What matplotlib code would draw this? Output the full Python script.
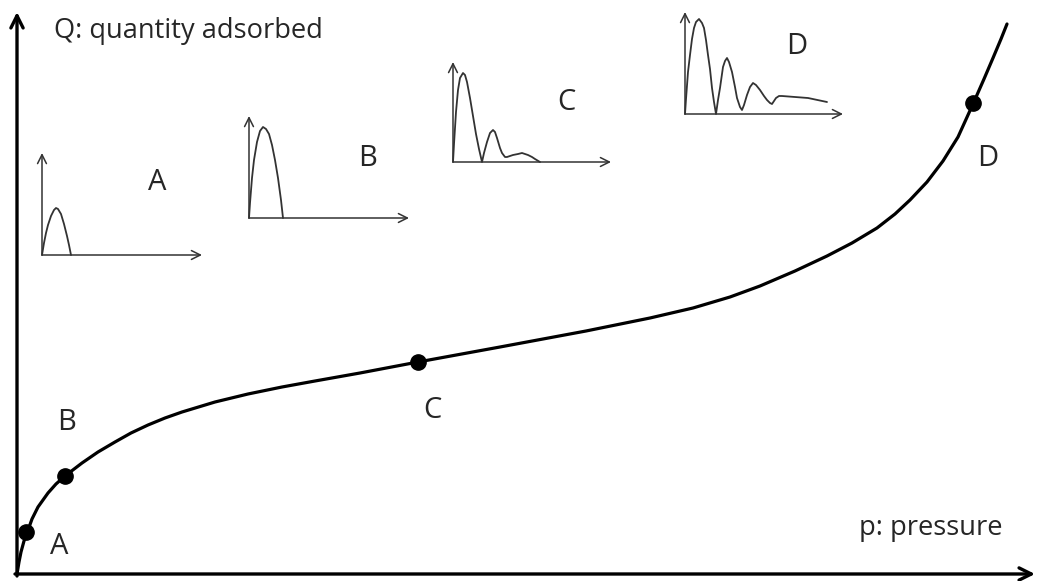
import numpy as np
import matplotlib
matplotlib.use("Agg")
import matplotlib.pyplot as plt

plt.rcParams['font.family'] = ['Open Sans', 'DejaVu Sans']

W, H = 1037, 581

# ---- main isotherm (p: pressure, Q: quantity adsorbed), arbitrary units ----
p_curve = [0, 1, 2, 4, 7, 10, 15, 21, 31, 39, 48, 65, 81, 98, 114, 131, 148, 165, 198, 231,
           265, 298, 343, 401, 483, 569, 633, 676, 713, 743, 778, 810, 835, 860, 878, 893,
           910, 926, 941, 956, 967, 976, 984, 990]
q_curve = [0, 6, 12, 22, 33, 41, 55, 67, 81, 90, 98, 111, 122, 132, 141, 149, 156, 162, 172, 180,
           187, 193, 201, 212, 227, 243, 256, 266, 277, 288, 303, 318, 331, 346, 360, 374,
           392, 413, 437, 470, 495, 516, 535, 550]
point_labels = ['A', 'B', 'C', 'D']
p_points = [9, 48, 401, 956]
q_points = [42, 98, 212, 471]

# ---- inset distributions (local units) ----
insetA_r = [0, 1, 2, 4, 6, 9, 12, 14, 16, 19, 22, 25, 27, 29]
insetA_g = [0, 6, 12, 22, 30, 39, 45, 47, 46, 41, 31, 19, 10, 0]
insetB_r = [0, 1, 3, 5, 8, 11, 14, 17, 20, 23, 26, 29, 32, 34]
insetB_g = [0, 15, 40, 58, 76, 87, 91, 89, 84, 73, 58, 40, 18, 0]
insetC_r = [0, 1, 3, 5, 7, 10, 12, 14, 17, 20, 23, 26, 29, 31, 34, 37, 40, 42, 44, 47, 49,
            52, 54, 57, 60, 65, 69, 72, 75, 79, 82, 87]
insetC_g = [0, 18, 50, 72, 84, 89, 87, 80, 64, 46, 28, 13, 0, 9, 20, 29, 32, 30, 24, 14, 9,
            5, 5, 6, 7, 8, 9, 8, 7, 5, 3, 0]
insetD_r = [0, 1, 3, 5, 7, 9, 11, 14, 17, 19, 21, 23, 25, 27, 29, 31, 33, 35, 38, 40, 42, 44,
            47, 50, 52, 55, 57, 59, 62, 65, 68, 71, 75, 79, 82, 85, 87, 89, 91, 94, 97, 110,
            123, 142]
insetD_g = [0, 15, 42, 59, 75, 86, 92, 95, 91, 86, 74, 59, 45, 26, 12, 0, 14, 26, 47, 53, 56, 52,
            42, 27, 16, 7, 4, 9, 19, 27, 31, 29, 24, 18, 14, 11, 10, 13, 16, 18, 18, 17,
            16, 12]

fig = plt.figure(figsize=(W / 100, H / 100), dpi=100)
fig.patch.set_facecolor('white')


def px_axes(x0, y0, w, h):
    ax = fig.add_axes([x0 / W, (H - y0) / H, w / W, h / H])
    ax.set_xlim(0, w)
    ax.set_ylim(0, h)
    ax.axis('off')
    return ax


def arrow(ax, start, end, lw, color, ms):
    ax.annotate('', xy=end, xytext=start, annotation_clip=False,
                arrowprops=dict(arrowstyle='->', lw=lw, color=color,
                                shrinkA=0, shrinkB=0, mutation_scale=ms))


# main axes
axm = px_axes(17, 574, 1020, 562)
arrow(axm, (0, -2), (0, 562), 2.4, 'black', 22)
arrow(axm, (-2, 0), (1018, 0), 2.4, 'black', 22)
axm.plot(p_curve, q_curve, color='black', lw=2.3, clip_on=False,
         solid_capstyle='round', solid_joinstyle='round')
axm.plot(p_points, q_points, 'o', color='black', ms=11, clip_on=False)

# insets
inset_specs = [
    ((42, 255, 160, 102), insetA_r, insetA_g),
    ((249, 218, 160, 102), insetB_r, insetB_g),
    ((453, 162, 158, 100), insetC_r, insetC_g),
    ((685, 114, 158, 102), insetD_r, insetD_g),
]
icol = '#333333'
for (x0, y0, w, h), r, g in inset_specs:
    ai = px_axes(x0, y0, w, h)
    arrow(ai, (0, 0), (0, h), 1.1, icol, 16)
    arrow(ai, (0, 0), (w, 0), 1.1, icol, 16)
    ai.plot(r, g, color=icol, lw=1.3, clip_on=False,
            solid_joinstyle='round', solid_capstyle='round')

# text overlay in pixel coordinates
axt = fig.add_axes([0, 0, 1, 1])
axt.set_xlim(0, W)
axt.set_ylim(H, 0)
axt.axis('off')
tcol = '#262626'
axt.text(54, 31, 'Q: quantity adsorbed', fontsize=19.6, color=tcol, ha='left', va='center')
axt.text(859, 528, 'p: pressure', fontsize=19.6, color=tcol, ha='left', va='center')

main_label_pos = [(59, 546), (67, 423), (432, 410), (988, 158)]
inset_label_pos = [(157, 183), (368, 158), (566, 103), (797, 47)]
for lab, (x, y) in zip(point_labels, main_label_pos):
    axt.text(x, y, lab, fontsize=21, color=tcol, ha='center', va='center')
for lab, (x, y) in zip(point_labels, inset_label_pos):
    axt.text(x, y, lab, fontsize=21, color=tcol, ha='center', va='center')

fig.savefig('out.png', dpi=100, facecolor='white')
